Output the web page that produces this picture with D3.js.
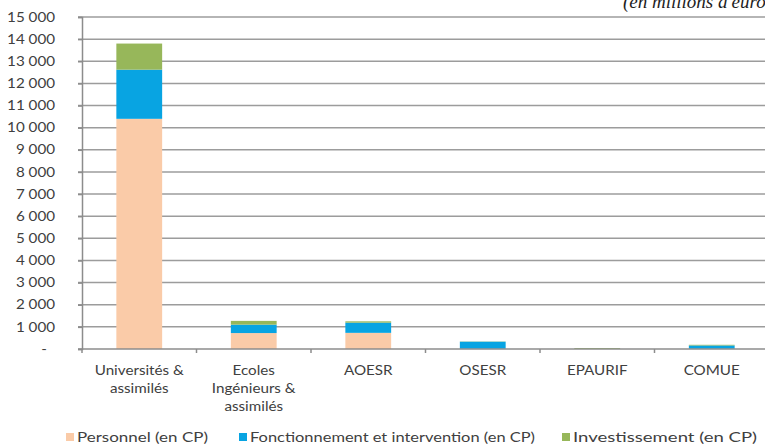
<!DOCTYPE html>
<html lang="fr">
<head>
<meta charset="utf-8">
<script src="https://cdn.jsdelivr.net/npm/d3@7"></script>
<style>
  html, body { margin: 0; padding: 0; background: #fff; }
  svg { display: block; }
  text { font-family: Lato, "Open Sans", "DejaVu Sans", sans-serif; }
</style>
</head>
<body>
<svg id="chart" width="765" height="447"></svg>
<script>
// Établissements (catégories de l'axe horizontal)
const categories = [
  ["Universités &", "assimilés"],
  ["Ecoles", "Ingénieurs &", "assimilés"],
  ["AOESR"],
  ["OSESR"],
  ["EPAURIF"],
  ["COMUE"]
];
const categoryKeys = ["Universités", "Ecoles", "AOESR", "OSESR", "EPAURIF", "COMUE"];

// Crédits de paiement, en millions d'euros
const personnel       = [10400, 720, 730, 10, 0, 10];
const fonctionnement  = [2220, 380, 460, 320, 5, 150];
const investissement  = [1180, 170, 60, 10, 40, 30];

const seriesNames  = ["Personnel (en CP)", "Fonctionnement et intervention (en CP)", "Investissement (en CP)"];
const seriesColors = ["#FACBA8", "#08A4E2", "#97B75A"];

const yTicks = [0, 1000, 2000, 3000, 4000, 5000, 6000, 7000, 8000, 9000,
                10000, 11000, 12000, 13000, 14000, 15000];
const yTickLabels = ["-", "1 000", "2 000", "3 000", "4 000", "5 000", "6 000", "7 000",
                     "8 000", "9 000", "10 000", "11 000", "12 000", "13 000", "14 000", "15 000"];

const rows = categoryKeys.map((k, i) => ({
  key: k, p: personnel[i], f: fonctionnement[i], inv: investissement[i]
}));

const svg = d3.select("#chart");
const plotLeft = 82, plotRight = 769, plotTop = 17, plotBottom = 349;
const stretch = 1.17;          // largeur des caractères
const textColor = "#404040";
const axisColor = "#8c8c8c";

const x = d3.scaleBand().domain(categoryKeys).range([plotLeft, plotRight]).paddingInner(0.6).paddingOuter(0.3);
const xBand = d3.scaleBand().domain(categoryKeys).range([plotLeft, plotRight]);
const y = d3.scaleLinear().domain([0, 15000]).range([plotBottom, plotTop]);

// Quadrillage horizontal
svg.append("g")
  .selectAll("line")
  .data(yTicks.slice(1))
  .join("line")
  .attr("x1", plotLeft - 4).attr("x2", plotRight)
  .attr("y1", d => y(d)).attr("y2", d => y(d))
  .attr("stroke", "#9c9c9c").attr("stroke-width", 1.5);

// Axe vertical
const yAxis = d3.axisLeft(y)
  .tickValues(yTicks)
  .tickFormat((d, i) => yTickLabels[i])
  .tickSize(4)
  .tickPadding(0);
const gy = svg.append("g").attr("transform", `translate(${plotLeft},0)`).call(yAxis);
gy.select(".domain").attr("stroke", axisColor).attr("stroke-width", 1.5);
gy.selectAll(".tick line").attr("stroke", axisColor).attr("stroke-width", 1.5);
gy.selectAll(".tick text")
  .attr("x", 0)
  .attr("transform", d => `translate(${d === 0 ? -35 : -27},0) scale(${stretch},1)`)
  .attr("fill", textColor)
  .style("font-size", "13px")
  .style("font-family", "Lato, 'Open Sans', sans-serif");

// Piles
const stack = d3.stack().keys(["p", "f", "inv"]);
const stacked = stack(rows);
svg.append("g")
  .selectAll("g")
  .data(stacked)
  .join("g")
  .attr("fill", (d, i) => seriesColors[i])
  .selectAll("rect")
  .data(d => d)
  .join("rect")
  .attr("x", d => x(d.data.key))
  .attr("width", x.bandwidth())
  .attr("y", d => y(d[1]))
  .attr("height", d => Math.max(0, y(d[0]) - y(d[1])));

// Axe horizontal
const gx = svg.append("g").attr("transform", `translate(0,${plotBottom})`);
gx.append("line")
  .attr("x1", plotLeft - 4).attr("x2", plotRight)
  .attr("stroke", axisColor).attr("stroke-width", 1.5);
gx.selectAll("line.tick")
  .data(categoryKeys)
  .join("line")
  .attr("class", "tick")
  .attr("x1", d => xBand(d)).attr("x2", d => xBand(d))
  .attr("y1", 0).attr("y2", 4)
  .attr("stroke", axisColor).attr("stroke-width", 1.5);

// Libellés des catégories
const labels = svg.append("g")
  .selectAll("text")
  .data(categories)
  .join("text")
  .attr("transform", (d, i) =>
    `translate(${xBand(categoryKeys[i]) + xBand.bandwidth() / 2},375) scale(${stretch},1)`)
  .attr("text-anchor", "middle")
  .attr("fill", textColor)
  .style("font-size", "13px");
labels.selectAll("tspan")
  .data(d => d)
  .join("tspan")
  .attr("x", 0)
  .attr("dy", (d, i) => i === 0 ? 0 : 18)
  .text(d => d);

// Légende : position de la case et largeur du libellé
const legendX = [66, 239, 562];
const legendWidth = [131, 285, 184];
const legend = svg.append("g")
  .selectAll("g")
  .data(seriesNames)
  .join("g")
  .attr("transform", (d, i) => `translate(${legendX[i]},437)`);
legend.append("rect")
  .attr("x", 0).attr("y", -4)
  .attr("width", 8).attr("height", 8)
  .attr("fill", (d, i) => seriesColors[i]);
legend.append("text")
  .attr("x", 11).attr("y", 5)
  .attr("textLength", (d, i) => legendWidth[i])
  .attr("lengthAdjust", "spacingAndGlyphs")
  .attr("fill", textColor)
  .style("font-size", "14px")
  .text(d => d);

// Unité
svg.append("text")
  .attr("x", 623).attr("y", 8)
  .attr("fill", "#1e1e1e")
  .style("font-family", "'Liberation Serif', 'DejaVu Serif', serif")
  .style("font-style", "italic")
  .style("font-size", "19px")
  .text("(en millions d'euros)");
</script>
</body>
</html>
